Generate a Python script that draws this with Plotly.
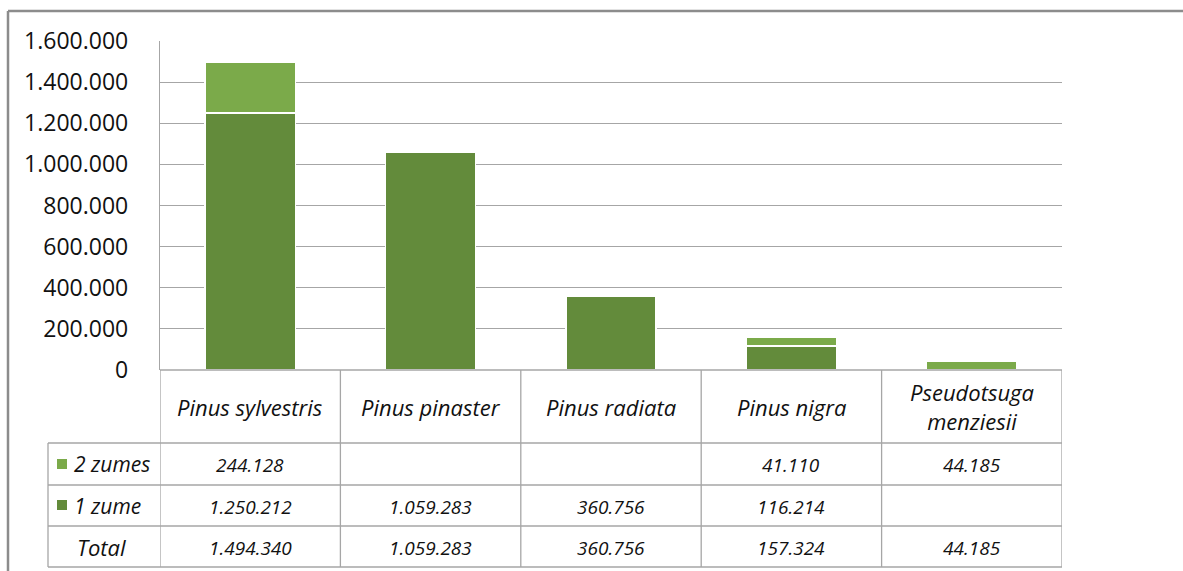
import plotly.graph_objects as go

categories = ["Pinus sylvestris", "Pinus pinaster", "Pinus radiata", "Pinus nigra", "Pseudotsuga menziesii"]
category_labels = ["Pinus sylvestris", "Pinus pinaster", "Pinus radiata", "Pinus nigra", "Pseudotsuga<br>menziesii"]
zume1 = [1250212, 1059283, 360756, 116214, None]
zume2 = [244128, None, None, 41110, 44185]
totals = [1494340, 1059283, 360756, 157324, 44185]
series_names = ["2 zumes", "1 zume"]
y_ticks = [0, 200000, 400000, 600000, 800000, 1000000, 1200000, 1400000, 1600000]

DARK = "#638B3B"
LIGHT = "#7BAA4A"
GRID = "#A6A6A6"
W, H = 1183, 571
FONT = "Open Sans"


def px(x):
    return x / W


def py(y):
    return 1 - y / H


def fmt(v):
    return "" if v is None else f"{v:,}".replace(",", ".")


fig = go.Figure()
fig.add_trace(go.Bar(x=categories, y=zume1, name=series_names[1], marker=dict(color=DARK, line=dict(color="white", width=1.5)), width=0.5))
fig.add_trace(go.Bar(x=categories, y=zume2, name=series_names[0], marker=dict(color=LIGHT, line=dict(color="white", width=1.5)), width=0.5))

shapes = []
annotations = []
line_style = dict(color=GRID, width=1.3)

# table geometry (pixels)
y_top, y_r1, y_r2, y_r3, y_bot = 370, 443, 485, 526, 567
x_left_tab, x_plot_l, x_plot_r = 48, 160, 1062

shapes.append(dict(type="line", xref="paper", yref="paper", x0=px(x_plot_l), x1=px(x_plot_r), y0=py(y_top), y1=py(y_top), line=line_style))
for yy in [y_r1, y_r2, y_r3, y_bot]:
    shapes.append(dict(type="line", xref="paper", yref="paper", x0=px(x_left_tab), x1=px(x_plot_r), y0=py(yy), y1=py(yy), line=line_style))
for i in range(len(categories) + 1):
    shapes.append(dict(type="line", xref="x", yref="paper", x0=i - 0.5, x1=i - 0.5, y0=py(y_top), y1=py(y_bot), line=line_style))
shapes.append(dict(type="line", xref="paper", yref="paper", x0=px(x_left_tab), x1=px(x_left_tab), y0=py(y_r1), y1=py(y_bot), line=line_style))

# outer chart border
shapes.append(dict(type="line", xref="paper", yref="paper", x0=px(8), x1=1.0, y0=py(11), y1=py(11), line=dict(color="#8C8C8C", width=2.5)))
shapes.append(dict(type="line", xref="paper", yref="paper", x0=px(8), x1=px(8), y0=py(11), y1=0, line=dict(color="#8C8C8C", width=2.5)))

# legend squares
shapes.append(dict(type="rect", xref="paper", yref="paper", x0=px(57), x1=px(67), y0=py(469), y1=py(459), fillcolor=LIGHT, line=dict(width=0)))
shapes.append(dict(type="rect", xref="paper", yref="paper", x0=px(57), x1=px(67), y0=py(510), y1=py(500), fillcolor=DARK, line=dict(width=0)))

wfont = dict(family=FONT, size=22, color="#111111", style="italic")
nfont = dict(family=FONT, size=19, color="#111111", style="italic")
row_centers = [(y_top + y_r1) / 2, (y_r1 + y_r2) / 2, (y_r2 + y_r3) / 2, (y_r3 + y_bot) / 2]
for i, cat in enumerate(categories):
    annotations.append(dict(x=i, y=py(row_centers[0]), xref="x", yref="paper", text=category_labels[i], showarrow=False, font=wfont, xanchor="center", yanchor="middle"))
    annotations.append(dict(x=i, y=py(row_centers[1] + 1), xref="x", yref="paper", text=fmt(zume2[i]), showarrow=False, font=nfont, xanchor="center", yanchor="middle"))
    annotations.append(dict(x=i, y=py(row_centers[2] + 1), xref="x", yref="paper", text=fmt(zume1[i]), showarrow=False, font=nfont, xanchor="center", yanchor="middle"))
    annotations.append(dict(x=i, y=py(row_centers[3] + 1), xref="x", yref="paper", text=fmt(totals[i]), showarrow=False, font=nfont, xanchor="center", yanchor="middle"))

annotations.append(dict(x=px(72), y=py(row_centers[1]), xref="paper", yref="paper", text=series_names[0], showarrow=False, font=dict(wfont, size=21), xanchor="left", yanchor="middle"))
annotations.append(dict(x=px(72), y=py(row_centers[2]), xref="paper", yref="paper", text=series_names[1], showarrow=False, font=dict(wfont, size=21), xanchor="left", yanchor="middle"))
annotations.append(dict(x=px(101), y=py(row_centers[3]), xref="paper", yref="paper", text="Total", showarrow=False, font=wfont, xanchor="center", yanchor="middle"))

fig.update_layout(
    width=W, height=H,
    margin=dict(l=0, r=0, t=0, b=0),
    paper_bgcolor="white", plot_bgcolor="white",
    barmode="stack",
    showlegend=False,
    separators=",.",
    shapes=shapes,
    annotations=annotations,
    xaxis=dict(domain=[px(x_plot_l), px(x_plot_r)], range=[-0.5, 4.5], showticklabels=False, showgrid=False, zeroline=False, showline=False, ticks=""),
    yaxis=dict(domain=[py(y_top), py(41)], range=[0, 1600000], tickvals=y_ticks, tickformat=",d",
               showgrid=True, gridcolor=GRID, gridwidth=1.3, zeroline=False,
               showline=True, linecolor=GRID, linewidth=1.3,
               ticks="", ticklabelstandoff=26, automargin=False,
               tickfont=dict(family=FONT, size=23, color="#111111")),
)

fig.write_html("out.html", config={"displayModeBar": False},
               post_script="document.body.style.margin='0px';document.body.style.padding='0px';document.documentElement.style.overflow='hidden';")
